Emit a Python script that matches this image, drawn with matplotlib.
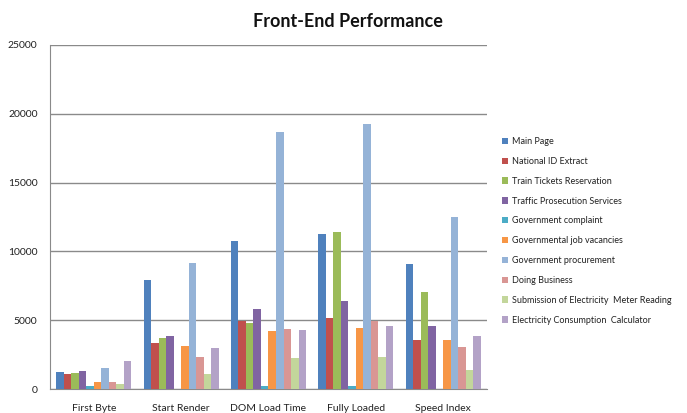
import numpy as np
import matplotlib.pyplot as plt

plt.rcParams['font.family'] = ['Lato', 'DejaVu Sans']

metrics = ["First Byte", "Start Render", "DOM Load Time", "Fully Loaded", "Speed Index"]
sites = [
    "Main Page",
    "National ID Extract",
    "Train Tickets Reservation",
    "Traffic Prosecution Services",
    "Government complaint",
    "Governmental job vacancies",
    "Government procurement",
    "Doing Business",
    "Submission of Electricity  Meter Reading",
    "Electricity Consumption  Calculator",
]

# one list per site, in metric order
main_page     = [1210, 7950, 10750, 11240, 9110]
national_id   = [1090, 3340, 4960, 5160, 3590]
train_tickets = [1190, 3730, 4820, 11390, 7050]
traffic       = [1290, 3870, 5790, 6420, 4600]
complaint     = [200, 0, 200, 200, 0]
job_vacancies = [490, 3100, 4215, 4460, 3590]
procurement   = [1500, 9130, 18650, 19280, 12500]
doing_biz     = [490, 2300, 4380, 4960, 3050]
meter_reading = [340, 1110, 2230, 2300, 1380]
consumption   = [2010, 3000, 4290, 4600, 3830]

series = [main_page, national_id, train_tickets, traffic, complaint,
          job_vacancies, procurement, doing_biz, meter_reading, consumption]
colors = ["#4F81BD", "#C0504D", "#9BBB59", "#8064A2", "#4BACC6",
          "#F79646", "#95B3D7", "#D99694", "#C3D69B", "#B3A2C7"]

fig = plt.figure(figsize=(6.87, 4.13), dpi=100)
ax = fig.add_axes([0.0728, 0.0581, 0.636, 0.833])

x = np.arange(len(metrics))
n = len(series)
w = 0.86 / n
for i, (vals, c) in enumerate(zip(series, colors)):
    ax.bar(x - 0.43 + w * (i + 0.5), vals, w, color=c, label=sites[i],
           zorder=3, linewidth=0)

ax.set_xlim(-0.5, len(metrics) - 0.5)
ax.set_ylim(0, 25000)
ax.set_yticks(range(0, 25001, 5000))
ax.set_xticks(x)
ax.set_xticklabels(metrics, fontsize=7.5, color="#222222")
ax.tick_params(axis='x', length=0, pad=11)
ax.tick_params(axis='y', length=0, pad=9, labelsize=7.5, labelcolor="#222222")
ax.yaxis.grid(True, color="#8a8a8a", linewidth=1.0, zorder=0)

for s in ["top", "right"]:
    ax.spines[s].set_visible(False)
ax.spines["left"].set_color("#8a8a8a")
ax.spines["bottom"].set_color("#8a8a8a")

fig.suptitle("Front-End Performance", x=0.507, y=0.968, fontsize=13,
             fontweight='bold', color="#111111")

fig.legend(loc="upper left", bbox_to_anchor=(0.725, 0.677), frameon=False,
           fontsize=6.5, handlelength=0.7, handleheight=0.7,
           handletextpad=0.4, labelspacing=1.2, borderaxespad=0,
           labelcolor="#222222")

fig.savefig("out.png", dpi=100)
